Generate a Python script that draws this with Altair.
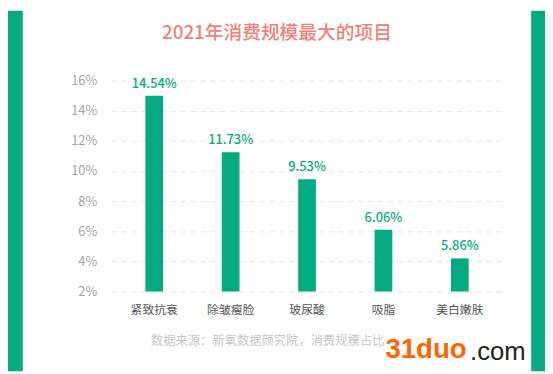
import altair as alt
import pandas as pd

categories = ["紧致抗衰", "除皱瘦脸", "玻尿酸", "吸脂", "美白嫩肤"]
bar_heights = [15.0, 11.25, 9.45, 6.1, 4.2]
bar_labels = ["14.54%", "11.73%", "9.53%", "6.06%", "5.86%"]
y_ticks = [2, 4, 6, 8, 10, 12, 14, 16]
y_base = 2
title_text = "2021年消费规模最大的项目"
source_text = "数据来源：新氧数据颜究院，消费规模占比"

GREEN = "#05aa80"
FONT = "Noto Sans CJK SC"

df = pd.DataFrame({"cat": categories, "h": bar_heights, "lab": bar_labels})
one = pd.DataFrame({"a": [0]})

x_axis = alt.Axis(labelAngle=0, ticks=False, domain=False, grid=False,
                  labelPadding=13, labelFontSize=12, labelColor="#555555",
                  labelFont=FONT)
x_scale = alt.Scale(paddingInner=0.768, paddingOuter=0.444)
y_axis = alt.Axis(values=y_ticks, labelExpr="datum.value + '%'",
                  ticks=False, domain=False, labelPadding=15,
                  labelOverlap=False, tickCount=8,
                  labelFontSize=13, labelColor="#a3a3a3", labelFont=FONT,
                  grid=True, gridColor="#e3e3e3", gridDash=[5, 5],
                  gridWidth=1)
y_scale = alt.Scale(domain=[2, 16], nice=False, zero=False)

x_enc = alt.X("cat:N", sort=categories, title=None, scale=x_scale, axis=x_axis)
y_enc = alt.Y("h:Q", title=None, scale=y_scale, axis=y_axis)

bars = alt.Chart(df).mark_bar(color=GREEN).encode(x=x_enc, y=y_enc, y2=alt.datum(y_base))
labels = alt.Chart(df).mark_text(color=GREEN, fontSize=13, font=FONT, fontWeight=500,
                                 baseline="bottom", dy=-5).encode(
    x=x_enc, y=y_enc, text="lab:N")

left_strip = alt.Chart(one).mark_rect(color=GREEN).encode(
    x=alt.value(-105), x2=alt.value(-90), y=alt.value(-71), y2=alt.value(295))
right_strip = alt.Chart(one).mark_rect(color=GREEN).encode(
    x=alt.value(426), x2=alt.value(440), y=alt.value(-71), y2=alt.value(295))

title = alt.Chart(one).mark_text(color="#ef817b", fontSize=19, font=FONT,
                                 fontWeight=500, baseline="middle", align="center").encode(
    x=alt.value(168), y=alt.value(-48), text=alt.value(title_text))
source = alt.Chart(one).mark_text(color="#c6c6c6", fontSize=12.5, font=FONT,
                                  baseline="middle", align="left").encode(
    x=alt.value(40), y=alt.value(264), text=alt.value(source_text))
wm1 = alt.Chart(one).mark_text(color="#ff6600", fontSize=28, font="Liberation Sans",
                               fontWeight="bold", baseline="middle", align="left").encode(
    x=alt.value(278), y=alt.value(273), text=alt.value("31duo"))
wm2 = alt.Chart(one).mark_text(color="#222222", fontSize=26, font="Liberation Sans",
                               baseline="middle", align="left").encode(
    x=alt.value(364), y=alt.value(276), text=alt.value(".com"))

chart = alt.layer(left_strip, right_strip, bars, labels, title, source, wm1, wm2).properties(
    width=397, height=214,
    autosize=alt.AutoSizeParams(type="none"),
    padding={"left": 105, "top": 71, "right": 43, "bottom": 81},
    background="white",
).configure_view(stroke=None)

chart.save("out.html", embed_options={"renderer": "svg", "actions": False})
